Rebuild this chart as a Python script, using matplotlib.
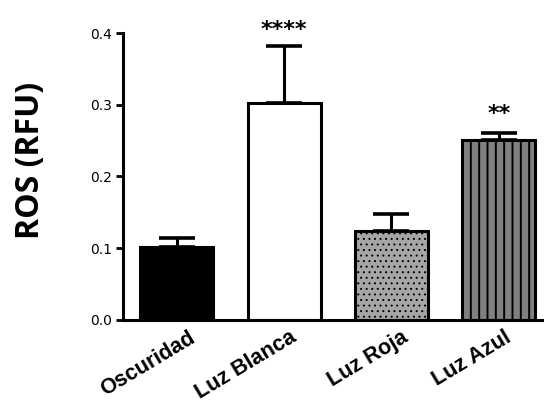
"""
ROS (RFU) under different light conditions
"""
import matplotlib.pyplot as plt
import matplotlib.transforms as mtrans
import numpy as np

plt.rcParams["hatch.color"] = "black"

# data
groups = ["Oscuridad", "Luz Blanca", "Luz Roja", "Luz Azul"]
means = [0.102, 0.302, 0.124, 0.251]
sems = [0.012, 0.080, 0.024, 0.010]
stars = ["", "****", "", "**"]

fills = ["black", "white", "#a6a6a6", "#808080"]
hatches = [None, None, "...", "||"]
hatch_lw = [1.0, 1.0, 0.7, 1.4]
star_off = [0, 0.0135, 0, 0.0175]
lbl_shift = [12, 5, 10, 5]  # px, nudges rotated labels to match

fig = plt.figure(figsize=(5.44, 4.05), dpi=100)
ax = fig.add_axes([0.226, 0.2099, 0.772, 0.7086])

x = np.arange(len(groups))
for i in x:
    with plt.rc_context({"hatch.linewidth": hatch_lw[i]}):
        b = ax.bar(i, means[i], width=0.68, color=fills[i], edgecolor="black",
                   linewidth=2.2, hatch=hatches[i], zorder=2)
    for p in b:
        if hasattr(p, "set_hatch_linewidth"):
            p.set_hatch_linewidth(hatch_lw[i])
    # upper error bar only
    ax.errorbar(i, means[i], yerr=[[0], [sems[i]]], fmt="none", ecolor="black",
                elinewidth=2.2, capsize=13, capthick=2.6, zorder=1)
    if stars[i]:
        ax.text(i, means[i] + sems[i] + star_off[i], stars[i],
                ha="center", va="baseline", fontsize=16, fontweight="semibold",
                family="DejaVu Sans")

ax.set_xlim(-0.5, 3.41)
ax.set_ylim(0, 0.4)
yt = [0.0, 0.1, 0.2, 0.3, 0.4]
ax.set_yticks(yt)
ax.set_yticklabels([f"{v:.1f}" for v in yt], family="DejaVu Sans", fontsize=10)
ax.set_xticks(x)
ax.set_xticklabels(groups, rotation=31, ha="right", rotation_mode="anchor",
                   family="Liberation Sans", fontweight="bold", fontsize=15.5)
ax.tick_params(axis="x", length=0, pad=5)
ax.tick_params(axis="y", length=5, width=2, direction="out", pad=3)
for lbl, s in zip(ax.get_xticklabels(), lbl_shift):
    lbl.set_transform(lbl.get_transform()
                      + mtrans.ScaledTranslation(s / 100, 0, fig.dpi_scale_trans))

ax.spines["top"].set_visible(False)
ax.spines["right"].set_visible(False)
ax.spines["left"].set_linewidth(2.2)
ax.spines["bottom"].set_linewidth(2.2)

fig.text(30 / 544, 1 - 160 / 405, "ROS (RFU)", rotation=90, ha="center",
         va="center", family="Open Sans", fontweight="bold", fontsize=23)

fig.savefig("out.png", dpi=100)
